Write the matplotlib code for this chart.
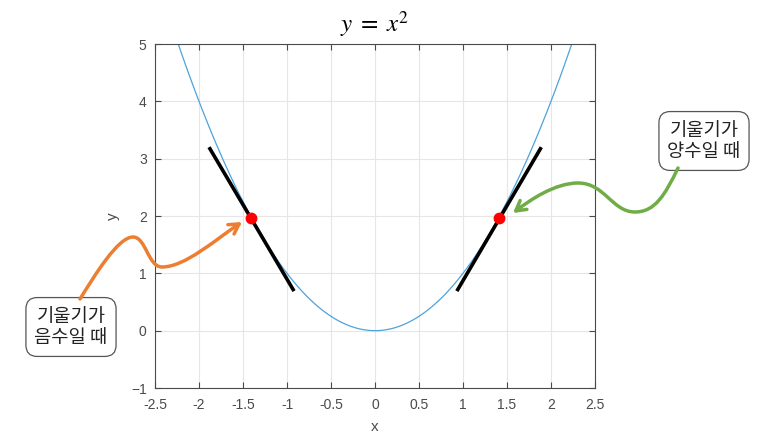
import numpy as np
import matplotlib
matplotlib.use("Agg")
import matplotlib.pyplot as plt
from matplotlib.path import Path
from matplotlib.patches import FancyArrowPatch

plt.rcParams['font.family'] = ['Liberation Sans', 'Noto Sans CJK KR', 'DejaVu Sans']
plt.rcParams['mathtext.fontset'] = 'stix'

# data
x_curve = np.linspace(-2.5, 2.5, 401)
y_curve = x_curve**2
tangent_left_x = [-1.886, -0.92]
tangent_left_y = [3.20, 0.69]
tangent_right_x = [0.93, 1.89]
tangent_right_y = [0.69, 3.20]
point_x = [-1.41, 1.41]
point_y = [1.96, 1.96]
xticks = [-2.5, -2, -1.5, -1, -0.5, 0, 0.5, 1, 1.5, 2, 2.5]
xtick_labels = ['-2.5', '-2', '-1.5', '-1', '-0.5', '0', '0.5', '1', '1.5', '2', '2.5']
yticks = [-1, 0, 1, 2, 3, 4, 5]
label_neg = '기울기가\n음수일 때'
label_pos = '기울기가\n양수일 때'

W, H = 773, 437
fig = plt.figure(figsize=(W/100, H/100), dpi=100)
ax = fig.add_axes([155/W, 1-388/H, 440/W, 344/H])

axc = '#4a4a4a'
ax.plot(x_curve, y_curve, color='#4DA3DB', lw=0.9, zorder=2)
ax.plot(tangent_left_x, tangent_left_y, color='black', lw=2.6, zorder=3, solid_capstyle='butt')
ax.plot(tangent_right_x, tangent_right_y, color='black', lw=2.6, zorder=3, solid_capstyle='butt')
ax.plot(point_x, point_y, 'o', color='red', ms=7.5, zorder=4, lw=0)

ax.set_xlim(-2.5, 2.5)
ax.set_ylim(-1, 5)
ax.set_xticks(xticks)
ax.set_xticklabels(xtick_labels)
ax.set_yticks(yticks)
ax.grid(True, color='#e6e6e6', lw=0.8, zorder=0)
ax.set_axisbelow(True)
ax.tick_params(direction='in', top=True, right=True, length=4, width=0.8,
               colors=axc, labelsize=10, labelcolor=axc)
ax.tick_params(axis='x', pad=7)
ax.tick_params(axis='y', pad=6)
for s in ax.spines.values():
    s.set_color(axc)
    s.set_linewidth(0.8)
ax.set_xlabel('x', color=axc, fontsize=11, labelpad=6)
ax.set_ylabel('y', color=axc, fontsize=11, labelpad=8)
ax.set_title(r'$y\;=\;x^2$', fontsize=18, color='black', pad=9)

def px(p):
    return (p[0]/W, 1 - p[1]/H)

def bez(points):
    verts = [px(p) for p in points]
    codes = [Path.MOVETO] + [Path.CURVE4]*(len(verts)-1)
    return Path(verts, codes)

orange_pts = [(80, 299), (95, 275), (118, 237), (133, 237),
              (146, 237), (148, 267), (162, 267),
              (185, 267), (215, 240), (242, 222)]
green_pts = [(678, 168), (665, 195), (655, 212), (635, 212),
             (612, 212), (605, 183), (578, 183),
             (555, 183), (530, 200), (513, 213)]

for pts, col in [(orange_pts, '#ED7D31'), (green_pts, '#70AD47')]:
    arr = FancyArrowPatch(path=bez(pts), transform=fig.transFigure,
                          arrowstyle='->,head_length=7,head_width=4',
                          color=col, lw=2.5, zorder=5)
    fig.patches.append(arr)

box = dict(boxstyle='round,pad=0.45,rounding_size=0.6', fc='white', ec='#555555', lw=0.9)
kor = ['Noto Sans CJK KR', 'DejaVu Sans']
fig.text(71/W, 1-327/H, label_neg, ha='center', va='center', fontsize=13.5,
         family=kor, color='#222222', bbox=box, linespacing=1.0)
fig.text(704/W, 1-141/H, label_pos, ha='center', va='center', fontsize=13.5,
         family=kor, color='#222222', bbox=box, linespacing=1.0)

fig.savefig('out.png', dpi=100)
